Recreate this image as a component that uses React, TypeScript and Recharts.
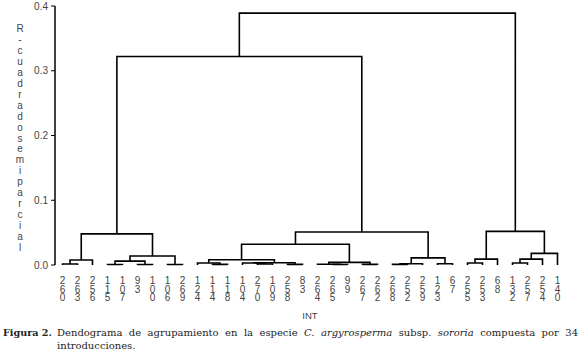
import { LineChart, Line, XAxis, YAxis } from 'recharts';

// leaf order along the bottom (INT numbers)
const leaves = [
  '260', '263', '256', '115', '107', '93', '100', '106', '269', '124', '114', '118',
  '104', '270', '109', '258', '83', '264', '265', '99', '267', '262', '268', '252',
  '259', '123', '67', '255', '253', '68', '132', '257', '254', '140',
];

// merges: [left node, right node, height]; leaves are 0..33, merge k becomes node 34 + k
const merges: [number, number, number][] = [
  [0, 1, 0.0015],
  [34, 2, 0.0077],
  [3, 4, 0.0008],
  [5, 6, 0.0008],
  [36, 37, 0.006],
  [7, 8, 0.0008],
  [38, 39, 0.014],
  [35, 40, 0.048],
  [10, 11, 0.001],
  [9, 42, 0.003],
  [13, 14, 0.0015],
  [12, 44, 0.003],
  [15, 16, 0.001],
  [45, 46, 0.0035],
  [43, 47, 0.008],
  [18, 19, 0.0008],
  [17, 49, 0.0012],
  [20, 21, 0.001],
  [50, 51, 0.004],
  [48, 52, 0.032],
  [22, 23, 0.001],
  [54, 24, 0.002],
  [25, 26, 0.002],
  [55, 56, 0.011],
  [53, 57, 0.051],
  [41, 58, 0.322],
  [27, 28, 0.003],
  [60, 29, 0.009],
  [30, 31, 0.003],
  [62, 32, 0.009],
  [63, 33, 0.018],
  [61, 64, 0.052],
  [59, 65, 0.389],
];

const yTicks = [0, 0.1, 0.2, 0.3, 0.4];
const yTitle = 'R-cuadradosemiparcial';

// build the U-shaped links from the merge list
const nodeX: number[] = leaves.map((_, i) => i);
const nodeH: number[] = leaves.map(() => 0);
const links = merges.map(([a, b, h]) => {
  nodeX.push((nodeX[a] + nodeX[b]) / 2);
  nodeH.push(h);
  return [
    { x: nodeX[a], y: nodeH[a] },
    { x: nodeX[a], y: h },
    { x: nodeX[b], y: h },
    { x: nodeX[b], y: nodeH[b] },
  ];
});

const sans = "Arial, 'Liberation Sans', sans-serif";

const LeafTick = (props: any) => {
  const { x, y, payload } = props;
  const label = leaves[payload.value] || '';
  return (
    <text x={x} y={y} textAnchor="middle" fontSize={10} fill="#444" fontFamily={sans}>
      {label.split('').map((c, i) => (
        <tspan key={i} x={x} dy={i === 0 ? 11 : 8.6}>
          {c}
        </tspan>
      ))}
    </text>
  );
};

const YTitle = (props: any) => {
  const { viewBox } = props;
  const x = viewBox.x + 20;
  return (
    <text x={x} y={viewBox.y + 18} textAnchor="middle" fontSize={10} fill="#444" fontFamily={sans}>
      {yTitle.split('').map((c, i) => (
        <tspan key={i} x={x} dy={i === 0 ? 8 : 10.95}>
          {c}
        </tspan>
      ))}
    </text>
  );
};

export default function App() {
  return (
    <div style={{ position: 'absolute', left: 0, top: 0, width: 580, height: 358, background: '#fff' }}>
      <LineChart width={580} height={322} margin={{ top: 6, right: 15, bottom: 0, left: 0 }}>
        <XAxis
          type="number"
          dataKey="x"
          domain={[-0.5, 33.5]}
          ticks={leaves.map((_, i) => i)}
          interval={0}
          axisLine={false}
          tickLine={false}
          height={57}
          tick={<LeafTick />}
          label={{ value: 'INT', position: 'insideBottom', offset: 3, fontSize: 9.5, fill: '#444', fontFamily: sans }}
        />
        <YAxis
          type="number"
          domain={[0, 0.4]}
          ticks={yTicks}
          width={55}
          tickFormatter={(v: number) => v.toFixed(1)}
          axisLine={{ stroke: '#000', strokeWidth: 1.5 }}
          tickLine={{ stroke: '#000' }}
          tickSize={4}
          tickMargin={3}
          tick={{ fontSize: 10, fill: '#444', fontFamily: sans }}
          label={<YTitle />}
        />
        {links.map((d, i) => (
          <Line
            key={i}
            data={d}
            dataKey="y"
            type="linear"
            stroke="#000"
            strokeWidth={1.6}
            dot={false}
            activeDot={false}
            isAnimationActive={false}
          />
        ))}
      </LineChart>
      <div
        style={{
          display: 'flex',
          fontFamily: "'DejaVu Serif', serif",
          fontSize: 10,
          lineHeight: '13px',
          color: '#222',
          paddingTop: 4,
          paddingLeft: 3,
          paddingRight: 2,
        }}
      >
        <div style={{ fontWeight: 'bold', width: 54, flexShrink: 0, whiteSpace: 'nowrap', fontSize: 9.6 }}>
          <span>Figura 2.</span>
        </div>
        <div style={{ flex: 1 }}>
          <div style={{ textAlign: 'justify', textAlignLast: 'justify' }}>
            <span>Dendograma de agrupamiento en la especie </span>
            <i>C. argyrosperma</i>
            <span> subsp. </span>
            <i>sororia</i>
            <span> compuesta por 34</span>
          </div>
          <div>
            <span>introducciones.</span>
          </div>
        </div>
      </div>
    </div>
  );
}
